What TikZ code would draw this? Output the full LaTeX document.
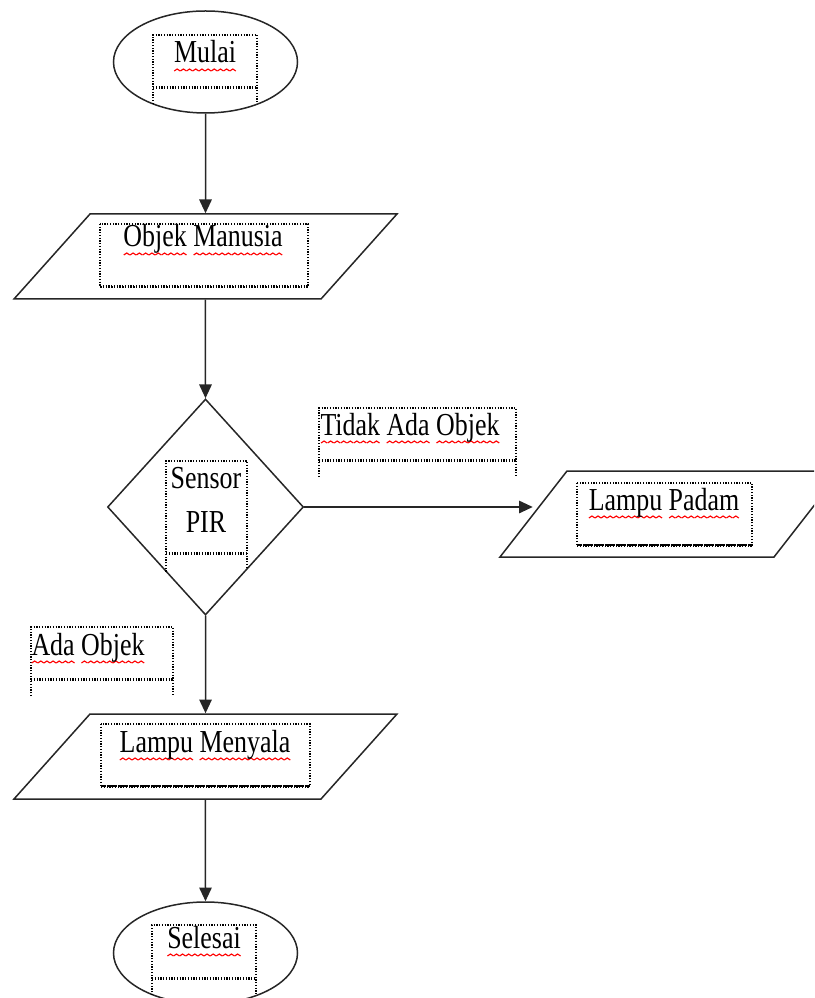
\documentclass[tikz,border=0pt]{standalone}
\usepackage{fontspec}
\setmainfont{Liberation Serif}[FakeStretch=0.81]
\usetikzlibrary{shapes.geometric,arrows.meta}
\newsavebox{\gelombang}
\newsavebox{\kata}
\AtBeginDocument{\sbox{\gelombang}{\begin{pgfpicture}
    \pgfsetlinewidth{0.45pt}\pgfsetstrokecolor{red}
    \pgfpathmoveto{\pgfpoint{0pt}{0pt}}\pgfpathlineto{\pgfpoint{1.2pt}{0.8pt}}\pgfpathlineto{\pgfpoint{2.4pt}{0pt}}
    \pgfusepath{stroke}
    \pgfresetboundingbox
    \pgfpathrectangle{\pgfpoint{0pt}{0pt}}{\pgfpoint{2.4pt}{0.8pt}}\pgfusepath{use as bounding box}
    \end{pgfpicture}}}
\newcommand{\salah}[1]{\sbox{\kata}{#1}\rlap{\raisebox{-3.2pt}[0pt][0pt]{\hbox to \wd\kata{\xleaders\copy\gelombang\hfil}}}\usebox{\kata}}

\begin{document}
\begin{tikzpicture}[x=0.4pt, y=-0.4pt,
    garis/.style={draw=black!85, line width=0.6pt},
    mulaiselesai/.style={garis, ellipse, minimum width=73.6pt, minimum height=40.8pt, inner sep=0pt},
    masukan/.style={garis, rectangle, minimum width=122.8pt, minimum height=34pt, inner sep=0pt,
        xslant=#1, transform shape},
    masukan/.default=0.894,
    keputusan/.style={garis, diamond, minimum width=78.4pt, minimum height=86.4pt, inner sep=0pt},
    panah/.style={garis, -{Triangle[length=5.5pt,width=5pt]}},
    kotak/.style={dash pattern=on 0.5pt off 0.6pt, line width=0.5pt},
    kotakbawah/.style={dash pattern=on 0.5pt off 0.6pt, line width=1.2pt},
    teks/.style={inner sep=0pt, font=\fontsize{12.8}{17.6}\selectfont}]
        \useasboundingbox (0,0) rectangle (814,998);
        \clip (0,0) rectangle (814,998);

        % bentuk
        \node[mulaiselesai] (mulai) at (205.5,62) {};
        \node[masukan] (objek) at (205.5,256.5) {};
        \node[keputusan] (sensor) at (205.5,507) {};
        \node[masukan=0.779, minimum width=109.6pt, minimum height=34.4pt] (padam) at (670.5,514) {};
        \node[masukan] (menyala) at (205.5,756.5) {};
        \node[mulaiselesai] (selesai) at (205.5,953) {};

        % kotak teks
        \draw[kotak] (153,104) -- (153,35) -- (257,35) -- (257,104);
        \draw[kotakbawah] (153,88) -- (257,88);
        \draw[kotak] (100,224) rectangle (308,287);
        \draw[kotakbawah] (100,287) -- (308,287);
        \draw[kotak] (166,571.5) -- (166,461) -- (247,461) -- (247,569);
        \draw[kotakbawah] (166,553) -- (247,553);
        \draw[kotak] (319,477) -- (319,408) -- (516,408) -- (516,477);
        \draw[kotakbawah] (319,460) -- (516,460);
        \draw[kotak] (577,483) rectangle (752,545);
        \draw[kotakbawah] (577,545) -- (752,545);
        \draw[kotak] (31,696) -- (31,627) -- (173,627) -- (173,696);
        \draw[kotakbawah] (31,679) -- (173,679);
        \draw[kotak] (101,724) rectangle (310,786);
        \draw[kotakbawah] (101,786) -- (310,786);
        \draw[kotak] (152,995) -- (152,925) -- (256,925) -- (256,995);
        \draw[kotakbawah] (152,978) -- (256,978);

        % teks
        \node[teks, anchor=base] (tmulai) at (205,63) {\salah{Mulai}};
        \node[teks, anchor=base] (tobjek) at (203,247) {\salah{Objek} \salah{Manusia}};
        \node[teks, anchor=base, align=center] (tsensor) at (206,532) {Sensor\\PIR};
        \node[teks, anchor=base west] (ttidak) at (320,435) {\salah{Tidak} \salah{Ada} \salah{Objek}};
        \node[teks, anchor=base] (tpadam) at (664,510) {\salah{Lampu} \salah{Padam}};
        \node[teks, anchor=base west] (tada) at (31,655) {\salah{Ada} \salah{Objek}};
        \node[teks, anchor=base] (tmenyala) at (205,752) {\salah{Lampu} \salah{Menyala}};
        \node[teks, anchor=base] (tselesai) at (204,948) {\salah{Selesai}};

        % panah
        \draw[panah] (mulai) -- (objek);
        \draw[panah] (objek) -- (sensor);
        \draw[panah] (sensor) -- (menyala);
        \draw[panah] (menyala) -- (selesai);
        \draw[panah] (sensor.east) -- (sensor.east -| padam.west);
    \end{tikzpicture}
\end{document}
